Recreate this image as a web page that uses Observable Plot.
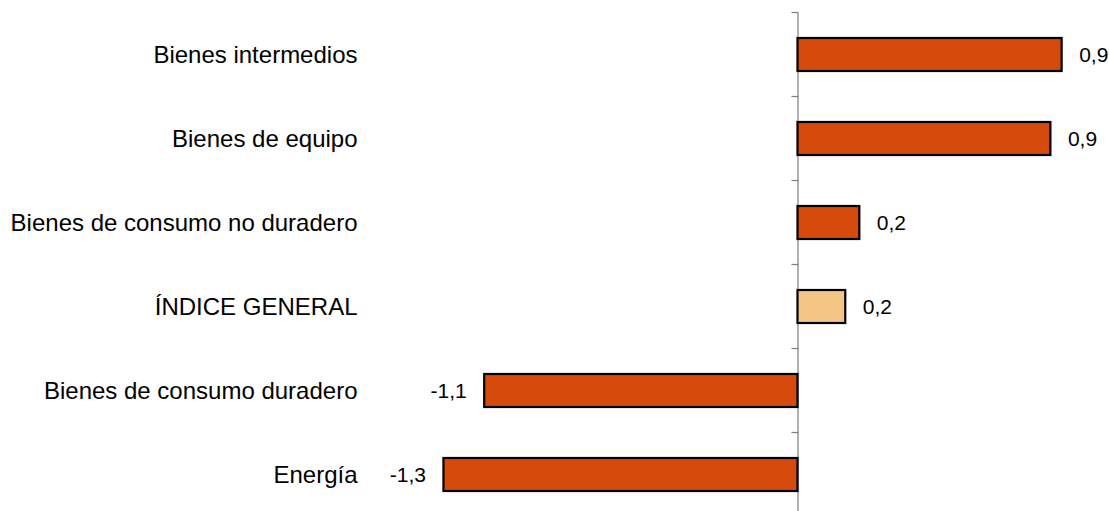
<!DOCTYPE html>
<html>
<head>
<meta charset="utf-8">
<script src="https://cdn.jsdelivr.net/npm/d3@7"></script>
<script src="https://cdn.jsdelivr.net/npm/@observablehq/plot@0.6"></script>
<style>
  html, body { margin: 0; padding: 0; background: #fff; }
  #chart svg { display: block; }
</style>
</head>
<body>
<div id="chart"></div>
<script>
const categories = [
  "Bienes intermedios",
  "Bienes de equipo",
  "Bienes de consumo no duradero",
  "ÍNDICE GENERAL",
  "Bienes de consumo duradero",
  "Energía"
];
const values = [0.94, 0.90, 0.22, 0.17, -1.115, -1.26];
const highlight = "ÍNDICE GENERAL";

const data = categories.map((name, i) => ({name, value: values[i]}));

const locale = d3.formatLocale({decimal: ",", thousands: ".", grouping: [3], currency: ["", "€"], minus: "-"});
const fmt = locale.format(".1f");

const W = 1109, H = 511;
const zero = 797.5, k = 281;
const yRange = [12.5, 516.5];
const font = "'Liberation Sans', Arial, Helvetica, sans-serif";

const chart = Plot.plot({
  width: W,
  height: H,
  marginTop: 13,
  marginBottom: 0,
  marginLeft: 357,
  marginRight: 0,
  style: {fontFamily: font, color: "#000", background: "#fff"},
  x: {domain: [-1.3, 1], range: [zero - 1.3 * k, zero + 1 * k], axis: null},
  y: {domain: categories, range: yRange, paddingInner: 0.61, paddingOuter: 0.305, axis: null},
  marks: [
    Plot.axisY({anchor: "left", tickSize: 0, tickPadding: 0, fontSize: 24, label: null, fill: "#000"}),
    Plot.ruleX([0], {stroke: "#7f7f7f", strokeWidth: 1.2}),
    Plot.barX(data, {
      x: "value",
      y: "name",
      fill: d => d.name === highlight ? "#f5c584" : "#d64b0c",
      stroke: "#000",
      strokeWidth: 2.2
    }),
    Plot.text(data.filter(d => d.value >= 0), {
      x: "value", y: "name", text: d => fmt(d.value),
      textAnchor: "start", dx: 17, fontSize: 21, fill: "#000"
    }),
    Plot.text(data.filter(d => d.value < 0), {
      x: "value", y: "name", text: d => fmt(d.value),
      textAnchor: "end", dx: -18, fontSize: 21, fill: "#000"
    })
  ]
});

// Tick marks on the zero axis at the top boundary of each category band
const sy = chart.scale("y");
const sx = chart.scale("x");
const step = sy.apply(categories[1]) - sy.apply(categories[0]);
const bw = sy.bandwidth;
const x0 = Math.round(sx.apply(0)) + 0.5;
const g = d3.select(chart).append("g").attr("stroke", "#7f7f7f").attr("stroke-width", 1.2);
categories.forEach(c => {
  const top = sy.apply(c) - (step - bw) / 2;
  g.append("line")
    .attr("x1", x0 - 7).attr("x2", x0)
    .attr("y1", top).attr("y2", top);
});

document.getElementById("chart").appendChild(chart);
</script>
</body>
</html>
